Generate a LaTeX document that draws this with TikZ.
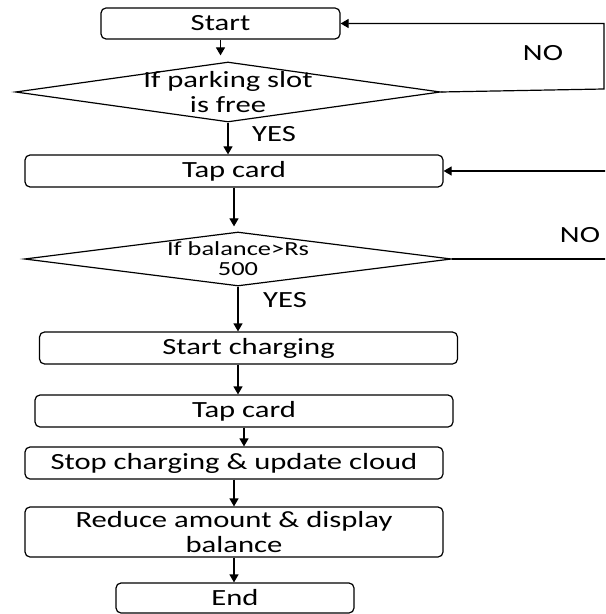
\documentclass[tikz,border=0pt]{standalone}
\usepackage{fontspec}
\setmainfont{Carlito}[FakeStretch=1.32]
\usetikzlibrary{shapes.geometric,arrows.meta}

\begin{document}
\begin{tikzpicture}[x=0.5pt,y=-0.5pt,
        every node/.style={font=\fontsize{11.6}{12.5}\selectfont},
        box/.style={draw,rounded corners=2.5pt,minimum width=209pt,minimum height=16pt,inner sep=0pt,line width=0.6pt},
        decision/.style={draw,diamond,inner sep=0pt,line width=0.6pt},
        flow/.style={-{Triangle[length=4pt,width=4.5pt]},line width=0.6pt}]
            \clip (0,0) rectangle (605,614);
            \node[box,minimum width=119.5pt,minimum height=15.5pt] (start) at (220.5,23.5) {Start};
            \node[decision,minimum width=212.5pt,minimum height=30pt] (slot) at (228,92) {};
            \node[align=center] (slottext) at (slot) {If parking slot\\is free};
            \node[box] (tapA) at (234,171) {Tap card};
            \node[decision,minimum width=213.5pt,minimum height=27pt] (balance) at (238,259) {};
            \node[align=center,font=\fontsize{10}{10}\selectfont] (baltext) at (balance) {If balance>Rs\\500};
            \node[box] (charge) at (248.5,348) {Start charging};
            \node[box] (tapB) at (244,411) {Tap card};
            \node[box] (stop) at (234,463) {Stop charging \& update cloud};
            \node[box,minimum height=25pt,align=center] (reduce) at (234,532) {Reduce amount \& display\\balance};
            \node[box,minimum width=119pt,minimum height=15pt] (fin) at (235,598) {End};
            % labels
            \node (noA) at (543,53) {NO};
            \node (noB) at (580,235) {NO};
            \node (yesA) at (274,134) {YES};
            \node (yesB) at (285,300) {YES};
            \coordinate (loopA) at (604,89);
            \coordinate (loopB) at (608,259);
            % main flow
            \draw[flow,shorten >=3pt] (start.south) -- (start.south |- slot.north);
            \draw[flow] (slot.south) -- (slot.south |- tapA.north);
            \draw[flow,shorten >=2.5pt] (tapA.south) -- (tapA.south |- balance.north);
            \draw[flow] (balance.south) -- (balance.south |- charge.north);
            \draw[flow] (charge.south -| balance.south) -- (balance.south |- tapB.north);
            \draw[flow] (tapB.south) -- (tapB.south |- stop.north);
            \draw[flow] (stop.south) -- (stop.south |- reduce.north);
            \draw[flow] (reduce.south) -- (reduce.south |- fin.north);
            % NO loops
            \draw[flow] (slot.east) -- (loopA) |- (start.east);
            \draw[flow] (balance.east) -- (loopB) |- (tapA.east);
        \end{tikzpicture}
\end{document}
